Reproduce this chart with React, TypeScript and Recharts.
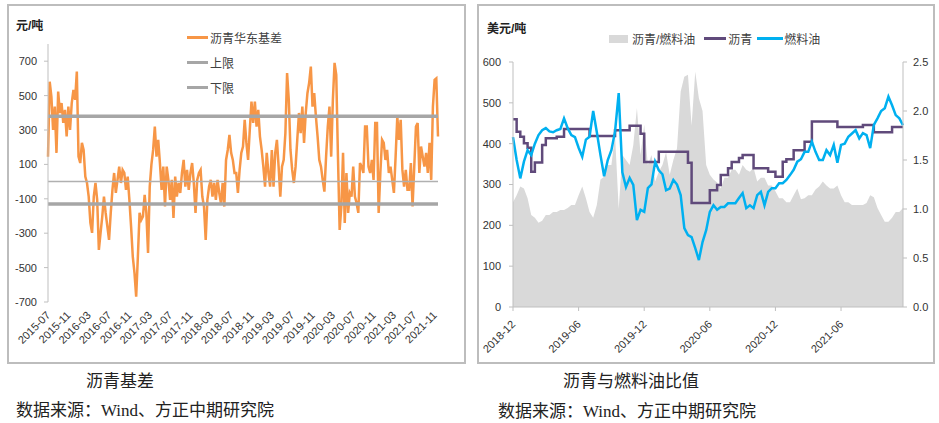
import React from 'react';
import { LineChart, Line, XAxis, YAxis, ReferenceLine, ComposedChart, Area } from 'recharts';

// ---------- Left chart: 沥青华东基差 ----------
const basisMonths = [
  '2015-07','2015-08','2015-09','2015-10','2015-11','2015-12',
  '2016-01','2016-02','2016-03','2016-04','2016-05','2016-06','2016-07','2016-08','2016-09','2016-10','2016-11','2016-12',
  '2017-01','2017-02','2017-03','2017-04','2017-05','2017-06','2017-07','2017-08','2017-09','2017-10','2017-11','2017-12',
  '2018-01','2018-02','2018-03','2018-04','2018-05','2018-06','2018-07','2018-08','2018-09','2018-10','2018-11','2018-12',
  '2019-01','2019-02','2019-03','2019-04','2019-05','2019-06','2019-07','2019-08','2019-09','2019-10','2019-11','2019-12',
  '2020-01','2020-02','2020-03','2020-04','2020-05','2020-06','2020-07','2020-08','2020-09','2020-10','2020-11','2020-12',
  '2021-01','2021-02','2021-03','2021-04','2021-05','2021-06','2021-07','2021-08','2021-09','2021-10','2021-11',
];
const basisValues = [
  [145,581,494],[300,436,167],[523,399,457],[341,417,262],[436,300,457],[533,475,640],
  [145,108,225],[184,29,-8],[-87,-240,-298],[-87,-8,-106],[-397,-298,-203],[-87,-182,-260],
  [-339,-182,-48],[50,-66,10],[87,-8,68],[50,-48,29],[-106,-262,-436],[-531,-669,-436],
  [-182,-223,-203],[-77,-182,-415],[-29,100,184],[320,145,243],[108,-48,87],[-145,87,10],
  [-106,10,-211],[29,-87,-8],[-66,50,126],[-29,68,-48],[50,108,-8],[-182,10,50],
  [68,-87,-145],[-339,-106,-29],[10,-87,-8],[-106,10,-66],[-126,-8,-145],[126,184,271],
  [167,126,50],[50,-66,68],[167,204,359],[225,126,300],[465,341,465],[320,417,262],
  [184,87,-29],[167,50,-29],[184,-29,167],[243,87,-87],[87,126,282],[631,475,184],
  [68,-8,87],[243,399,282],[436,225,399],[514,573,669],[436,514,378],[262,126,87],
  [10,-58,145],[320,436,145],[475,690,620],[145,-281,-145],[167,-240,50],[-182,-66,-87],
  [87,-87,-126],[-182,108,87],[50,320,320],[87,50,126],[10,341,341],[-182,50,243],
  [225,126,184],[50,87,10],[-66,145,378],[243,359,68],[-29,68,-48],[-48,108,-145],
  [87,320,341],[50,204,145],[87,167,50],[225,10,436],[591,600,262],
];
const upperLimit = 380;
const lowerLimit = -130;
const basisTicks = [-700, -500, -300, -100, 100, 300, 500, 700];
const subDays = ['01', '11', '21'];

// ---------- Right chart: 沥青与燃料油比值 ----------
const ratioMonths = [
  '2018-12',
  '2019-01','2019-02','2019-03','2019-04','2019-05','2019-06','2019-07','2019-08','2019-09','2019-10','2019-11','2019-12',
  '2020-01','2020-02','2020-03','2020-04','2020-05','2020-06','2020-07','2020-08','2020-09','2020-10','2020-11','2020-12',
  '2021-01','2021-02','2021-03','2021-04','2021-05','2021-06','2021-07','2021-08','2021-09','2021-10','2021-11',
];
const asphaltPrice = [
  [460,429,417],[401,390,331],[354,354,397],[413,413,413],[417,417,436],[436,436,436],
  [436,436,436],[419,419,419],[419,419,419],[419,433,433],[433,433,444],[444,444,424],
  [355,355,355],[355,380,380],[380,380,380],[380,380,380],[353,255,255],[255,255,255],
  [286,286,299],[323,323,340],[355,355,365],[372,372,372],[340,340,340],[340,331,331],
  [319,319,356],[362,362,384],[384,384,405],[405,454,454],[454,454,454],[454,454,441],
  [441,441,441],[441,441,441],[446,446,446],[428,428,428],[428,428,441],[441,441,441],
];
const fuelOilPrice = [
  [416,360,315],[356,384,372],[400,421,433],[438,430,428],[433,436,462],[438,421,416],
  [390,368,410],[417,480,428],[372,320,360],[384,430,524],[330,294,316],[299,213,238],
  [233,291,300],[356,335,325],[286,290,311],[300,274,193],[176,171,144],[115,159,188],
  [233,249,238],[245,245,254],[254,254,267],[279,242,249],[242,274,282],[249,282,291],
  [291,303,303],[311,323,336],[356,362,380],[380,405,380],[360,360,384],[372,397,353],
  [397,400,417],[425,433,413],[426,421,389],[446,462,480],[487,515,494],[470,462,445],
];
const asphaltFuelRatio = [
  [1.07,1.14,1.23],[1.21,1.11,0.94],[0.91,0.86,0.88],[0.94,0.94,0.97],[0.97,0.99,0.99],[1.01,1.04,1.04],
  [1.14,1.23,1.11],[0.97,0.91,1.04],[1.30,1.33,1.45],[1.45,1.75,1.0],[1.55,1.50,1.45],[1.65,2.03,1.55],
  [1.86,1.45,1.55],[1.28,1.38,1.45],[1.58,1.35,1.50],[1.62,2.20,2.35],[2.37,1.85,2.40],[2.13,2.00,1.45],
  [1.35,1.30,1.27],[1.21,1.32,1.32],[1.40,1.40,1.35],[1.45,1.40,1.38],[1.42,1.28,1.32],[1.32,1.24,1.24],
  [1.18,1.11,1.11],[1.07,1.07,1.14],[1.21,1.10,1.11],[1.14,1.14,1.20],[1.23,1.28,1.24],[1.21,1.21,1.24],
  [1.14,1.07,1.07],[1.04,1.04,1.04],[1.04,1.06,1.14],[1.12,1.01,0.94],[0.87,0.87,0.91],[0.97,0.97,1.01],
];
const priceTicks = [0, 100, 200, 300, 400, 500, 600];
const ratioTicks = [0, 0.5, 1, 1.5, 2, 2.5];

// ---------- tables ----------
const basisData = basisMonths.flatMap((m, i) =>
  basisValues[i].map((v, j) => ({ date: `${m}-${subDays[j]}`, basis: v, upper: upperLimit, lower: lowerLimit }))
);
const ratioData = ratioMonths.flatMap((m, i) =>
  subDays.map((d, j) => ({
    date: `${m}-${d}`,
    ratio: asphaltFuelRatio[i][j],
    asphalt: asphaltPrice[i][j],
    fuel: fuelOilPrice[i][j],
  }))
);

const NUM_FONT = "'Liberation Sans', Arial, 'Noto Sans CJK SC', sans-serif";
const CJK_FONT = "'Liberation Sans', 'Noto Sans CJK SC', sans-serif";
const CAPTION_FONT = "'Liberation Serif', 'Noto Sans CJK SC', serif";
const TEXT = '#333333';

const makeDateTick = (ox: number, oy: number) => (props: any) => {
  const { x, y, payload } = props;
  const ax = x + ox;
  const ay = y + oy;
  return (
    <text
      x={ax}
      y={ay}
      transform={`rotate(-45, ${ax}, ${ay})`}
      textAnchor="end"
      fontSize={11}
      fontFamily={NUM_FONT}
      fill={TEXT}
    >
      {String(payload.value).slice(0, 7)}
    </text>
  );
};

const LegendLine = ({ color, label, width = 21, thick = 3 }: any) => (
  <div style={{ display: 'flex', alignItems: 'center', height: 25 }}>
    <div style={{ width, height: thick, background: color, marginRight: 2 }} />
    <span style={{ fontSize: 12, color: '#404040', fontFamily: CJK_FONT }}>{label}</span>
  </div>
);

const BasisChart = () => (
  <LineChart
    width={470}
    height={365}
    data={basisData}
    margin={{ top: 44, right: 32, bottom: 8, left: 8 }}
  >
    <XAxis
      dataKey="date"
      scale="point"
      interval={11}
      axisLine={false}
      tickLine={false}
      tickSize={0}
      tickMargin={0}
      height={55}
      tick={makeDateTick(3, 14)}
    />
    <YAxis
      domain={[-700, 800]}
      ticks={basisTicks}
      width={40}
      axisLine={{ stroke: '#bfbfbf' }}
      tickLine={{ stroke: '#bfbfbf' }}
      tickSize={4}
      tickMargin={7}
      tick={{ fontSize: 11, fill: TEXT, fontFamily: NUM_FONT }}
    />
    <Line
      dataKey="basis"
      stroke="#f79646"
      strokeWidth={2.5}
      dot={false}
      type="linear"
      isAnimationActive={false}
    />
    <ReferenceLine y={0} stroke="#b0b0b0" strokeWidth={1.5} />
    <Line dataKey="upper" stroke="#a6a6a6" strokeWidth={3.5} dot={false} isAnimationActive={false} />
    <Line dataKey="lower" stroke="#a6a6a6" strokeWidth={3.5} dot={false} isAnimationActive={false} />
  </LineChart>
);

const RatioChart = () => (
  <ComposedChart
    width={469}
    height={365}
    data={ratioData}
    margin={{ top: 62, right: 6, bottom: 8, left: 8 }}
  >
    <XAxis
      dataKey="date"
      scale="point"
      interval={17}
      axisLine={{ stroke: '#bfbfbf' }}
      tickLine={{ stroke: '#bfbfbf' }}
      tickSize={4}
      tickMargin={0}
      height={50}
      tick={makeDateTick(3, 14)}
    />
    <YAxis
      yAxisId="price"
      domain={[0, 600]}
      ticks={priceTicks}
      width={35}
      axisLine={{ stroke: '#bfbfbf' }}
      tickLine={{ stroke: '#bfbfbf' }}
      tickSize={4}
      tickMargin={8}
      tick={{ fontSize: 11, fill: TEXT, fontFamily: NUM_FONT }}
    />
    <YAxis
      yAxisId="ratio"
      orientation="right"
      domain={[0, 2.5]}
      ticks={ratioTicks}
      width={30}
      axisLine={{ stroke: '#bfbfbf' }}
      tickLine={{ stroke: '#bfbfbf' }}
      tickSize={4}
      tickMargin={6}
      tickFormatter={(v: number) => v.toFixed(1)}
      tick={{ fontSize: 11, fill: TEXT, fontFamily: NUM_FONT, textAnchor: 'start' }}
    />
    <Area
      yAxisId="ratio"
      dataKey="ratio"
      type="linear"
      stroke="none"
      fill="#d9d9d9"
      fillOpacity={1}
      isAnimationActive={false}
    />
    <Line
      yAxisId="price"
      dataKey="asphalt"
      type="stepAfter"
      stroke="#604a7b"
      strokeWidth={2.5}
      dot={false}
      isAnimationActive={false}
    />
    <Line
      yAxisId="price"
      dataKey="fuel"
      type="linear"
      stroke="#00b0f0"
      strokeWidth={2.5}
      dot={false}
      isAnimationActive={false}
    />
  </ComposedChart>
);

export default function App() {
  return (
    <div style={{ position: 'absolute', left: 0, top: 0, width: 939, height: 423, background: '#fff', overflow: 'hidden' }}>
      {/* panel borders */}
      <div style={{ position: 'absolute', left: 7, top: 4, width: 455, height: 356, border: '2px solid #bdbdbd' }} />
      <div style={{ position: 'absolute', left: 477, top: 4, width: 454, height: 356, border: '2px solid #bdbdbd' }} />

      {/* left chart */}
      <div style={{ position: 'absolute', left: 0, top: 0 }}>
        <BasisChart />
      </div>
      <div style={{ position: 'absolute', left: 16, top: 16, fontSize: 12, fontWeight: 'bold', color: '#222', fontFamily: CJK_FONT }}>元/吨</div>
      <div style={{ position: 'absolute', left: 187, top: 25 }}>
        <LegendLine color="#f79646" label="沥青华东基差" />
        <LegendLine color="#a6a6a6" label="上限" />
        <LegendLine color="#a6a6a6" label="下限" />
      </div>

      {/* right chart */}
      <div style={{ position: 'absolute', left: 470, top: 0 }}>
        <RatioChart />
      </div>
      <div style={{ position: 'absolute', left: 487, top: 19, fontSize: 12, fontWeight: 'bold', color: '#222', fontFamily: CJK_FONT }}>美元/吨</div>
      <div style={{ position: 'absolute', left: 609, top: 26, display: 'flex', alignItems: 'center', height: 25 }}>
        <div style={{ width: 19, height: 8, background: '#d9d9d9', marginRight: 4 }} />
        <span style={{ fontSize: 12, color: '#404040', fontFamily: CJK_FONT, marginRight: 9 }}>沥青/燃料油</span>
        <div style={{ width: 22, height: 3, background: '#604a7b', marginRight: 2 }} />
        <span style={{ fontSize: 12, color: '#404040', fontFamily: CJK_FONT, marginRight: 5 }}>沥青</span>
        <div style={{ width: 26, height: 3, background: '#00b0f0', marginRight: 1 }} />
        <span style={{ fontSize: 12, color: '#404040', fontFamily: CJK_FONT }}>燃料油</span>
      </div>

      {/* captions */}
      <div style={{ position: 'absolute', left: 86, top: 372, fontSize: 17, lineHeight: '20px', color: '#222', fontFamily: CAPTION_FONT }}>沥青基差</div>
      <div style={{ position: 'absolute', left: 16, top: 401, fontSize: 17, lineHeight: '20px', color: '#222', fontFamily: CAPTION_FONT, whiteSpace: 'nowrap' }}>数据来源：Wind、方正中期研究院</div>
      <div style={{ position: 'absolute', left: 563, top: 372, fontSize: 17, lineHeight: '20px', color: '#222', fontFamily: CAPTION_FONT }}>沥青与燃料油比值</div>
      <div style={{ position: 'absolute', left: 498, top: 402, fontSize: 17, lineHeight: '20px', color: '#222', fontFamily: CAPTION_FONT, whiteSpace: 'nowrap' }}>数据来源：Wind、方正中期研究院</div>
    </div>
  );
}
